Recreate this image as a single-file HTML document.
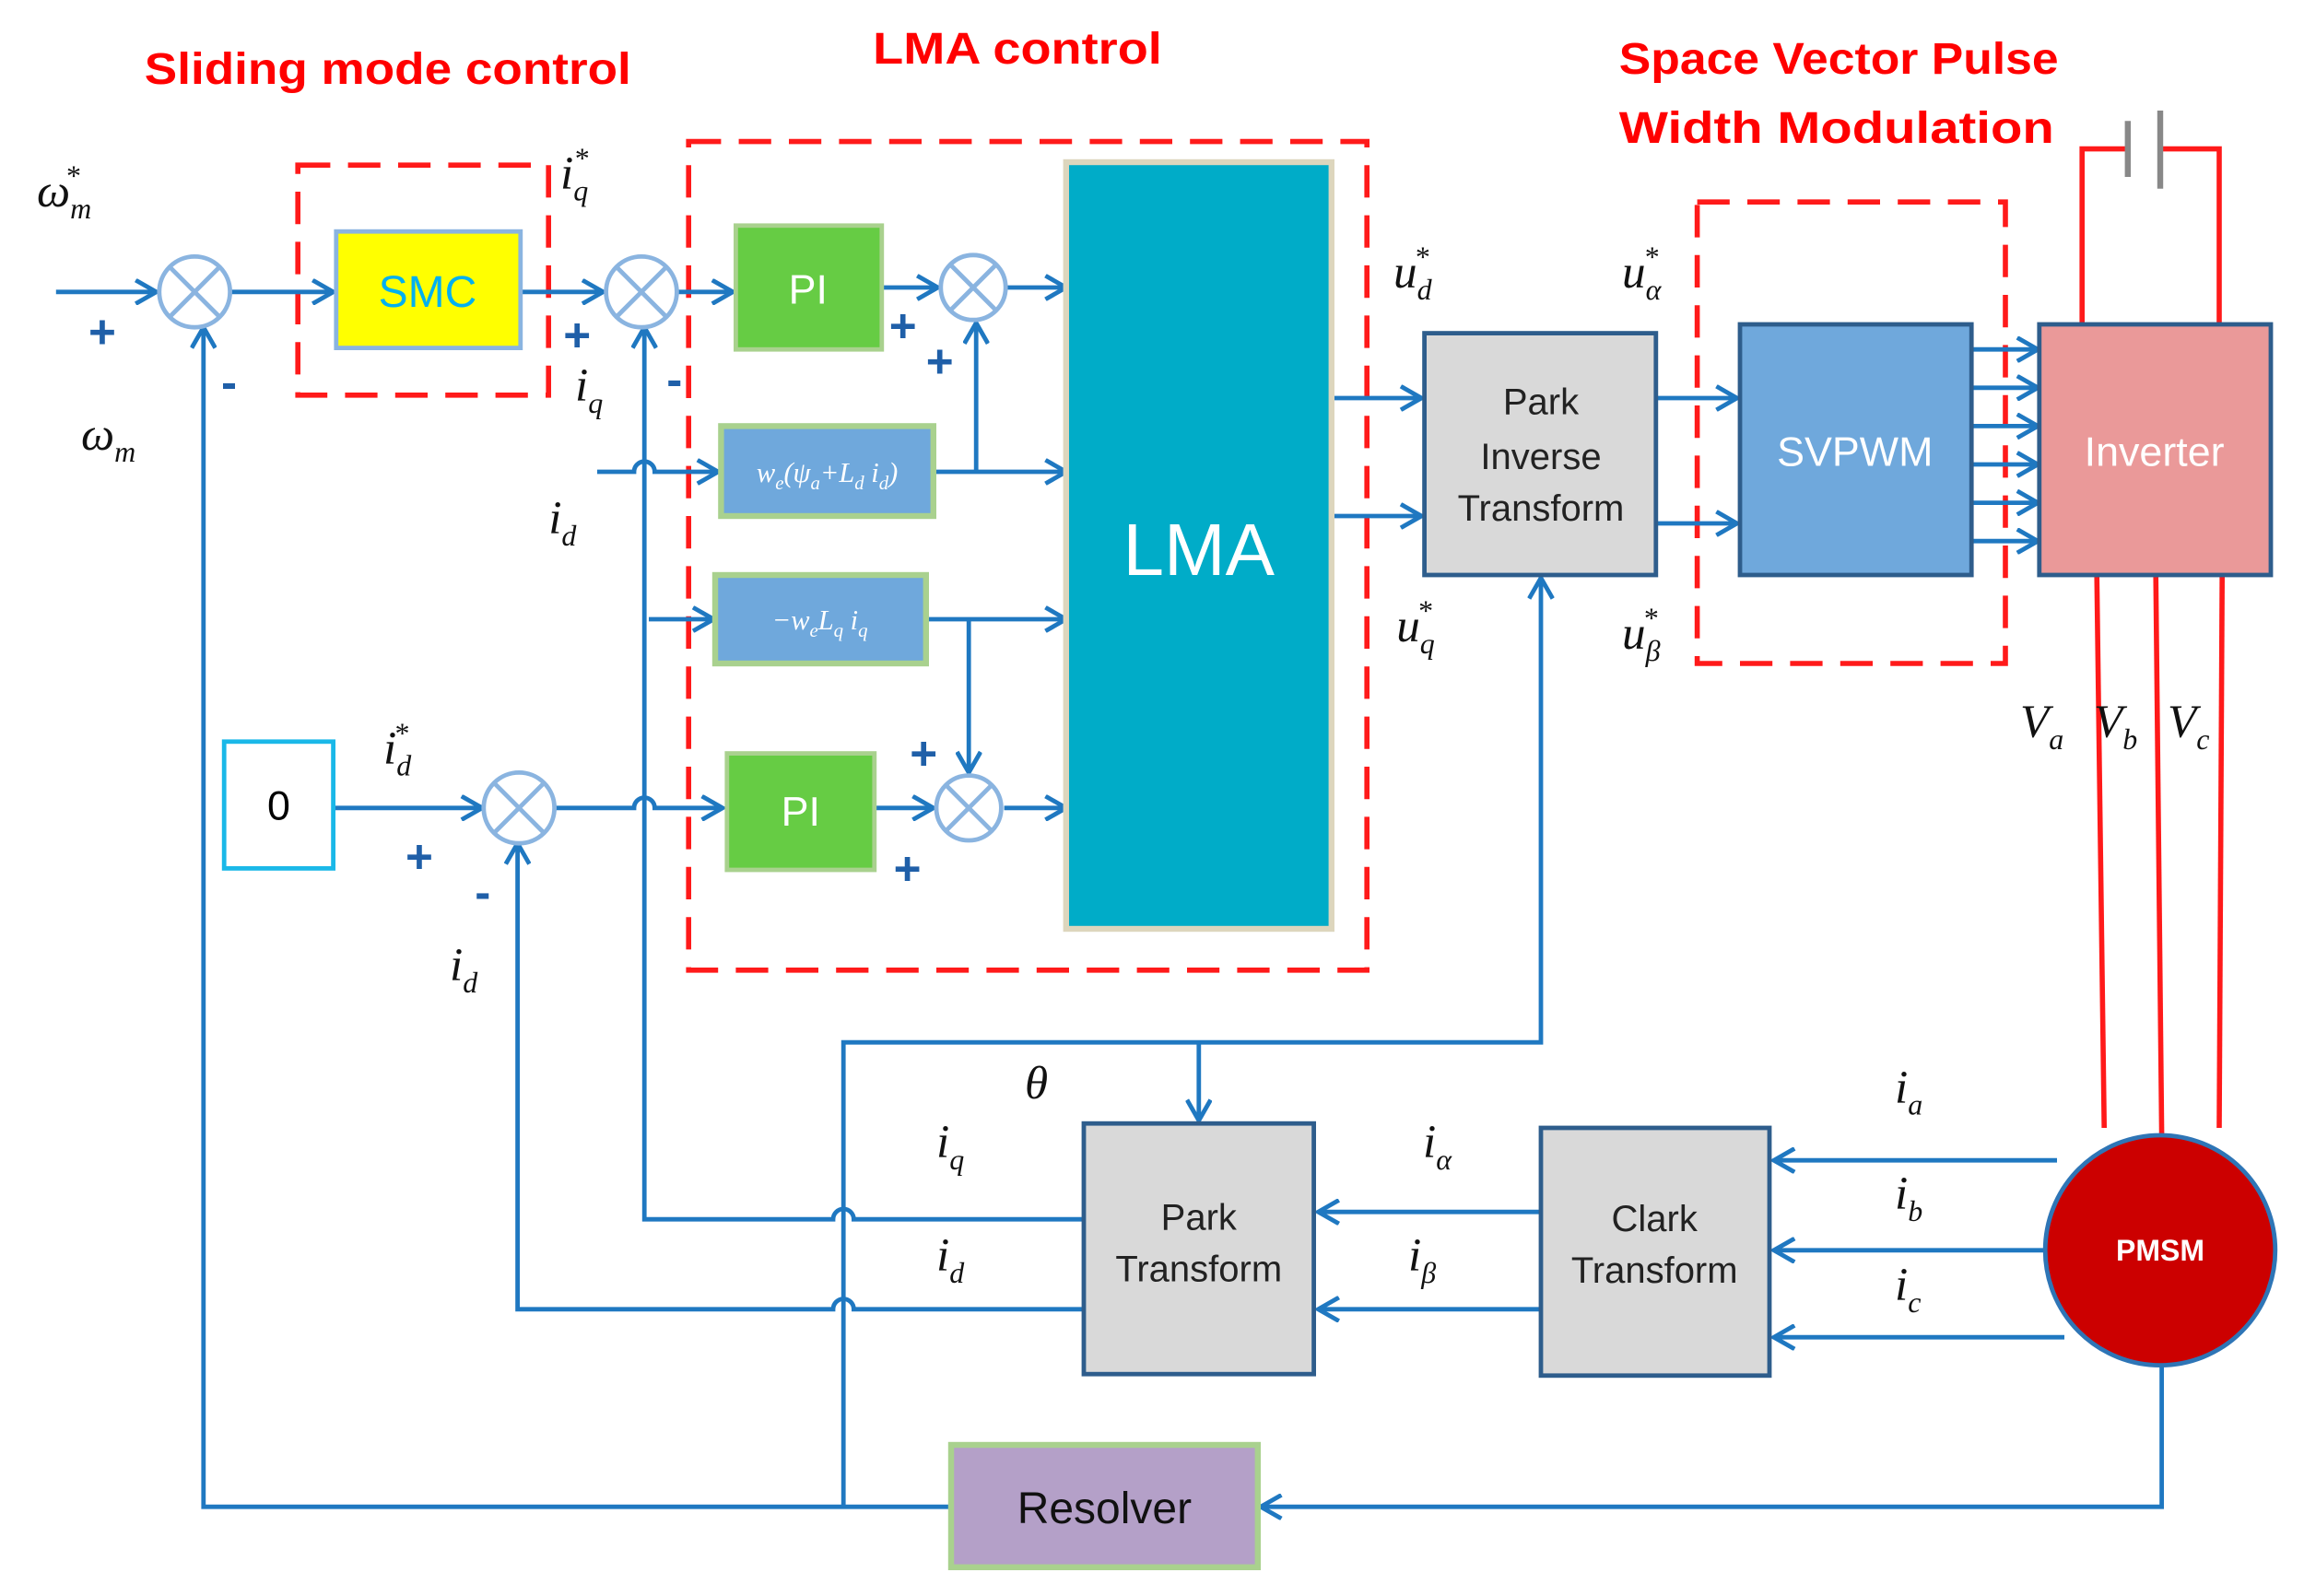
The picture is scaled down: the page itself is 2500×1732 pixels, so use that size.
<!DOCTYPE html>
<html><head><meta charset="utf-8"><style>
html,body{margin:0;padding:0;background:#fff;}
svg{display:block;}
.t{font-family:"Liberation Sans",sans-serif;}
.m{font-family:"Liberation Serif",serif;font-style:italic;}
.red{fill:#ff0000;font-weight:bold;font-size:30px;font-family:"Liberation Sans",sans-serif;}
</style></head><body>
<svg width="2500" height="1732" viewBox="0 0 1562.5 1082.5" xmlns="http://www.w3.org/2000/svg">
<defs>
<marker id="b" markerWidth="18" markerHeight="18" refX="16" refY="9" orient="auto" markerUnits="userSpaceOnUse" viewBox="0 0 18 18"><path d="M2,1 L16,9 L2,17" fill="none" stroke="#1f78c1" stroke-width="3"/></marker>
<g id="s"><circle cx="0" cy="0" r="24"/><line x1="-17" y1="-17" x2="17" y2="17"/><line x1="-17" y1="17" x2="17" y2="-17"/></g>
</defs>
<rect width="1562.5" height="1082.5" fill="#fff"/>
<!-- titles -->
<text class="red" x="98" y="57" textLength="330" lengthAdjust="spacingAndGlyphs">Sliding mode control</text>
<text class="red" x="592" y="43" textLength="196" lengthAdjust="spacingAndGlyphs">LMA control</text>
<text class="red" x="1098" y="50" textLength="298" lengthAdjust="spacingAndGlyphs">Space Vector Pulse</text>
<text class="red" x="1098" y="97" textLength="295" lengthAdjust="spacingAndGlyphs">Width Modulation</text>
<!-- dashed boxes -->
<g fill="none" stroke="#ff1a1a" stroke-width="3.5" stroke-dasharray="22,12">
<rect x="202" y="112" width="170" height="156"/>
<rect x="467" y="96" width="460" height="562"/>
<rect x="1151" y="137" width="209" height="313"/>
</g>
<!-- connectors -->
<g fill="none" stroke="#1f78c1" stroke-width="3">
<line x1="38" y1="198" x2="106" y2="198" marker-end="url(#b)"/>
<line x1="156" y1="198" x2="226" y2="198" marker-end="url(#b)"/>
<line x1="354" y1="198" x2="409" y2="198" marker-end="url(#b)"/>
<line x1="459" y1="198" x2="497" y2="198" marker-end="url(#b)"/>
<line x1="598" y1="195" x2="636" y2="195" marker-end="url(#b)"/>
<line x1="683" y1="195" x2="723" y2="195" marker-end="url(#b)"/>
<path d="M405,320 H430 A7,7 0 0 1 444,320 H487" marker-end="url(#b)"/>
<line x1="633" y1="320" x2="723" y2="320" marker-end="url(#b)"/>
<line x1="662" y1="320" x2="662" y2="219" marker-end="url(#b)"/>
<line x1="440" y1="420" x2="484" y2="420" marker-end="url(#b)"/>
<line x1="628" y1="420" x2="723" y2="420" marker-end="url(#b)"/>
<line x1="657" y1="420" x2="657" y2="524" marker-end="url(#b)"/>
<line x1="594" y1="548" x2="633" y2="548" marker-end="url(#b)"/>
<line x1="681" y1="548" x2="723" y2="548" marker-end="url(#b)"/>
<line x1="226" y1="548" x2="327" y2="548" marker-end="url(#b)"/>
<path d="M376,548 H430 A7,7 0 0 1 444,548 H490" marker-end="url(#b)"/>
<line x1="903" y1="270" x2="964" y2="270" marker-end="url(#b)"/>
<line x1="903" y1="350" x2="964" y2="350" marker-end="url(#b)"/>
<line x1="1123" y1="270" x2="1178" y2="270" marker-end="url(#b)"/>
<line x1="1123" y1="355" x2="1178" y2="355" marker-end="url(#b)"/>
<line x1="1337" y1="237" x2="1382" y2="237" marker-end="url(#b)"/>
<line x1="1337" y1="263" x2="1382" y2="263" marker-end="url(#b)"/>
<line x1="1337" y1="289" x2="1382" y2="289" marker-end="url(#b)"/>
<line x1="1337" y1="315" x2="1382" y2="315" marker-end="url(#b)"/>
<line x1="1337" y1="341" x2="1382" y2="341" marker-end="url(#b)"/>
<line x1="1337" y1="367" x2="1382" y2="367" marker-end="url(#b)"/>
<path d="M735,827 H579 A7,7 0 0 0 565,827 H437 V222" marker-end="url(#b)"/>
<path d="M735,888 H579 A7,7 0 0 0 565,888 H351 V572" marker-end="url(#b)"/>
<path d="M1466,926 V1022 H855" marker-end="url(#b)"/>
<path d="M645,1022 H138 V222" marker-end="url(#b)"/>
<path d="M572,1022 V707 H1045 V392" marker-end="url(#b)"/>
<line x1="813" y1="707" x2="813" y2="760" marker-end="url(#b)"/>
<line x1="1395" y1="787" x2="1203" y2="787" marker-end="url(#b)"/>
<line x1="1388" y1="848" x2="1203" y2="848" marker-end="url(#b)"/>
<line x1="1400" y1="907" x2="1203" y2="907" marker-end="url(#b)"/>
<line x1="1045" y1="822" x2="894" y2="822" marker-end="url(#b)"/>
<line x1="1045" y1="888" x2="894" y2="888" marker-end="url(#b)"/>
</g>
<!-- red power lines -->
<g fill="none" stroke="#ff1a1a" stroke-width="3.5">
<path d="M1412,220 V101 H1443"/><path d="M1465,101 H1505 V220"/>
<line x1="1422" y1="390" x2="1427" y2="765"/>
<line x1="1462" y1="390" x2="1466" y2="770"/>
<line x1="1507" y1="390" x2="1505" y2="765"/>
</g>
<line x1="1443" y1="82" x2="1443" y2="120" stroke="#888" stroke-width="4"/>
<line x1="1465" y1="75" x2="1465" y2="128" stroke="#888" stroke-width="4"/>
<!-- sum junctions -->
<g fill="#fff" stroke="#8ab4e0" stroke-width="3">
<use href="#s" x="132" y="198"/><use href="#s" x="435" y="198"/><use href="#s" x="352" y="548"/>
<circle cx="660" cy="195" r="22"/><line x1="645" y1="180" x2="675" y2="210"/><line x1="645" y1="210" x2="675" y2="180"/>
<circle cx="657" cy="548" r="22"/><line x1="642" y1="533" x2="672" y2="563"/><line x1="642" y1="563" x2="672" y2="533"/>
</g>
<!-- blocks -->
<rect x="228" y="157" width="125" height="79" fill="#ffff00" stroke="#8ab4e0" stroke-width="3"/>
<text class="t" x="290" y="208" font-size="30" fill="#00b0f0" text-anchor="middle">SMC</text>
<rect x="499" y="153" width="99" height="84" fill="#66cc44" stroke="#a9d18e" stroke-width="3"/>
<text class="t" x="548" y="206" font-size="28" fill="#fff" text-anchor="middle">PI</text>
<rect x="493" y="511" width="100" height="79" fill="#66cc44" stroke="#a9d18e" stroke-width="3"/>
<text class="t" x="543" y="560" font-size="28" fill="#fff" text-anchor="middle">PI</text>
<rect x="723" y="110" width="180" height="520" fill="#00acc8" stroke="#ddd6bd" stroke-width="4"/>
<text class="t" x="813" y="390" font-size="50" fill="#fff" text-anchor="middle">LMA</text>
<rect x="489" y="289" width="144" height="61" fill="#6fa8dc" stroke="#a9d18e" stroke-width="4"/>
<text class="m" x="561" y="327" font-size="19" fill="#fff" text-anchor="middle">w<tspan font-size="13" dy="5">e</tspan><tspan dy="-5">(ψ</tspan><tspan font-size="13" dy="5">a</tspan><tspan dy="-5">+L</tspan><tspan font-size="13" dy="5">d</tspan><tspan dy="-5"> i</tspan><tspan font-size="13" dy="5">d</tspan><tspan dy="-5">)</tspan></text>
<rect x="485" y="390" width="143" height="60" fill="#6fa8dc" stroke="#a9d18e" stroke-width="4"/>
<text class="m" x="556" y="427" font-size="19" fill="#fff" text-anchor="middle">−w<tspan font-size="13" dy="5">e</tspan><tspan dy="-5">L</tspan><tspan font-size="13" dy="5">q</tspan><tspan dy="-5"> i</tspan><tspan font-size="13" dy="5">q</tspan></text>
<rect x="152" y="503" width="74" height="86" fill="#fff" stroke="#1ab8e8" stroke-width="3"/>
<text class="t" x="189" y="556" font-size="28" fill="#000" text-anchor="middle">0</text>
<rect x="966" y="226" width="157" height="164" fill="#d9d9d9" stroke="#2e5d8c" stroke-width="3"/>
<g class="t" font-size="25" fill="#222" text-anchor="middle"><text x="1045" y="281">Park</text><text x="1045" y="318">Inverse</text><text x="1045" y="353">Transform</text></g>
<rect x="1180" y="220" width="157" height="170" fill="#6fa8dc" stroke="#2e5d8c" stroke-width="3"/>
<text class="t" x="1258" y="316" font-size="28" fill="#fff" text-anchor="middle">SVPWM</text>
<rect x="1383" y="220" width="157" height="170" fill="#ea9999" stroke="#2e5d8c" stroke-width="3"/>
<text class="t" x="1461" y="316" font-size="28" fill="#fff" text-anchor="middle">Inverter</text>
<rect x="735" y="762" width="156" height="170" fill="#d9d9d9" stroke="#2e5d8c" stroke-width="3"/>
<g class="t" font-size="25" fill="#222" text-anchor="middle"><text x="813" y="834">Park</text><text x="813" y="869">Transform</text></g>
<rect x="1045" y="765" width="155" height="168" fill="#d9d9d9" stroke="#2e5d8c" stroke-width="3"/>
<g class="t" font-size="25" fill="#222" text-anchor="middle"><text x="1122" y="835">Clark</text><text x="1122" y="870">Transform</text></g>
<circle cx="1465" cy="848" r="78" fill="#cc0000" stroke="#2e75b6" stroke-width="3"/>
<text class="t" x="1465" y="855" font-size="20" font-weight="bold" fill="#fff" text-anchor="middle">PMSM</text>
<rect x="645" y="980" width="208" height="83" fill="#b4a0c8" stroke="#a9d18e" stroke-width="4"/>
<text class="t" x="749" y="1033" font-size="30" fill="#111" text-anchor="middle">Resolver</text>
<!-- signs -->
<g class="t" font-weight="bold" font-size="32" fill="#1f5fa8">
<text x="60" y="236">+</text><text x="150" y="270">-</text>
<text x="382" y="238">+</text><text x="452" y="268">-</text>
<text x="603" y="232">+</text><text x="628" y="256">+</text>
<text x="617" y="522">+</text><text x="606" y="600">+</text>
<text x="275" y="592">+</text><text x="322" y="616">-</text>
</g>
<!-- math labels -->
<g class="m" font-size="32" fill="#111">
<text x="25" y="140">ω<tspan font-size="20" dy="8">m</tspan><tspan font-size="20" dx="-18" dy="-22">*</tspan></text>
<text x="55" y="305">ω<tspan font-size="20" dy="8">m</tspan></text>
<text x="380" y="128">i<tspan font-size="20" dy="8">q</tspan><tspan font-size="20" dx="-10" dy="-22">*</tspan></text>
<text x="390" y="272">i<tspan font-size="20" dy="8">q</tspan></text>
<text x="372" y="362">i<tspan font-size="20" dy="8">d</tspan></text>
<text x="260" y="518">i<tspan font-size="20" dy="8">d</tspan><tspan font-size="20" dx="-12" dy="-22">*</tspan></text>
<text x="305" y="665">i<tspan font-size="20" dy="8">d</tspan></text>
<text x="945" y="195">u<tspan font-size="20" dy="8">d</tspan><tspan font-size="20" dx="-12" dy="-22">*</tspan></text>
<text x="947" y="435">u<tspan font-size="20" dy="8">q</tspan><tspan font-size="20" dx="-12" dy="-22">*</tspan></text>
<text x="1100" y="195">u<tspan font-size="20" dy="8">α</tspan><tspan font-size="20" dx="-12" dy="-22">*</tspan></text>
<text x="1100" y="440">u<tspan font-size="20" dy="8">β</tspan><tspan font-size="20" dx="-12" dy="-22">*</tspan></text>
<text x="1370" y="500">V<tspan font-size="20" dy="8">a</tspan></text>
<text x="1420" y="500">V<tspan font-size="20" dy="8">b</tspan></text>
<text x="1470" y="500">V<tspan font-size="20" dy="8">c</tspan></text>
<text x="695" y="745">θ</text>
<text x="635" y="785">i<tspan font-size="20" dy="8">q</tspan></text>
<text x="635" y="862">i<tspan font-size="20" dy="8">d</tspan></text>
<text x="965" y="785">i<tspan font-size="20" dy="8">α</tspan></text>
<text x="955" y="862">i<tspan font-size="20" dy="8">β</tspan></text>
<text x="1285" y="748">i<tspan font-size="20" dy="8">a</tspan></text>
<text x="1285" y="820">i<tspan font-size="20" dy="8">b</tspan></text>
<text x="1285" y="882">i<tspan font-size="20" dy="8">c</tspan></text>
</g>
</svg>
</body></html>
